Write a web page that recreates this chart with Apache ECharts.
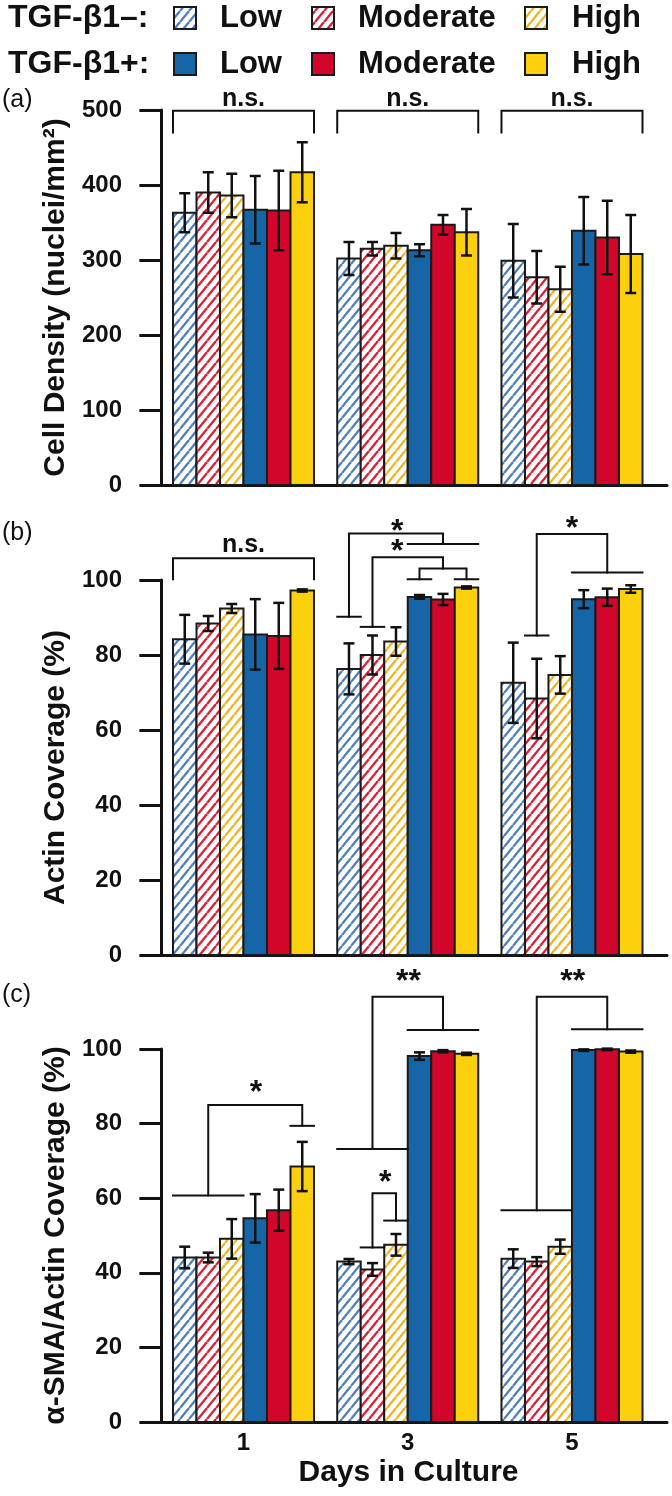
<!DOCTYPE html>
<html><head><meta charset="utf-8">
<script src="https://cdn.jsdelivr.net/npm/echarts@6/dist/echarts.min.js"></script>
<style>html,body{margin:0;padding:0;background:#fff}#c{width:672px;height:1496px}</style>
</head><body><div id="c"></div>
<script>
// ---------------- data ----------------
const days = [1, 3, 5];
const rowLabels = ['TGF-β1–:', 'TGF-β1+:'];
const levelNames = ['Low', 'Moderate', 'High'];
const panelLabels = ['(a)', '(b)', '(c)'];
const yNames = ['Cell Density (nuclei/mm²)', 'Actin Coverage (%)', 'α-SMA/Actin Coverage (%)'];
const xName = 'Days in Culture';

// rows: Low−, Moderate−, High−, Low+, Moderate+, High+ ; columns: day 1, 3, 5
const densityMean = [
  [363, 302, 299],
  [390, 315, 277],
  [386, 319, 261],
  [367, 313, 339],
  [366, 347, 330],
  [417, 337, 308]
];
const densityErr = [
  [26, 22, 49],
  [27, 9, 35],
  [29, 17, 30],
  [45, 8, 45],
  [53, 13, 49],
  [40, 31, 52]
];
const actinMean = [
  [84.2, 76.3, 72.6],
  [88.4, 80.0, 68.4],
  [92.4, 83.6, 74.7],
  [85.5, 95.5, 94.9],
  [85.1, 94.8, 95.4],
  [97.2, 98.0, 97.6]
];
const actinErr = [
  [6.5, 6.8, 10.7],
  [2.0, 5.2, 10.6],
  [1.2, 3.8, 5.0],
  [9.4, 0.5, 2.4],
  [8.8, 1.5, 2.3],
  [0.3, 0.3, 1.0]
];
const smaMean = [
  [44.1, 43.0, 43.8],
  [44.1, 40.9, 43.0],
  [49.1, 47.5, 47.0],
  [54.6, 98.1, 99.7],
  [56.8, 99.4, 99.9],
  [68.5, 98.7, 99.3]
];
const smaErr = [
  [2.9, 0.7, 2.5],
  [1.3, 1.7, 1.2],
  [5.3, 2.9, 1.9],
  [6.5, 1.0, 0.2],
  [5.5, 0.3, 0.2],
  [6.6, 0.3, 0.3]
];

// significance brackets: g = day index, points = [bar slot position (0..6), value]
const bracketsA = [
  {g: 0, pts: [[0, 470], [0, 499], [6, 499], [6, 470]]},
  {g: 1, pts: [[0, 470], [0, 499], [6, 499], [6, 470]]},
  {g: 2, pts: [[0, 470], [0, 499], [6, 499], [6, 470]]}
];
const labelsA = [
  {g: 0, p: 3, v: 514, t: 'n.s.'},
  {g: 1, p: 3, v: 514, t: 'n.s.'},
  {g: 2, p: 3, v: 514, t: 'n.s.'}
];
const bracketsB = [
  {g: 0, pts: [[0, 100.2], [0, 105.8], [6, 105.8], [6, 100.2]]},
  {g: 1, pts: [[0, 90.2], [1, 90.2]]},
  {g: 1, pts: [[0.5, 90.2], [0.5, 112.4], [4.5, 112.4], [4.5, 109.6]]},
  {g: 1, pts: [[3, 109.6], [6, 109.6]]},
  {g: 1, pts: [[1, 87.5], [2, 87.5]]},
  {g: 1, pts: [[1.5, 87.5], [1.5, 106.1], [4.5, 106.1], [4.5, 103.1]]},
  {g: 1, pts: [[3.5, 100.2], [3.5, 103.1], [5.5, 103.1], [5.5, 100.2]]},
  {g: 1, pts: [[3, 100.2], [4, 100.2]]},
  {g: 1, pts: [[5, 100.2], [6, 100.2]]},
  {g: 2, pts: [[1, 85.2], [2, 85.2]]},
  {g: 2, pts: [[1.5, 85.2], [1.5, 112.3], [4.5, 112.3], [4.5, 102]]},
  {g: 2, pts: [[3, 102], [6, 102]]}
];
const labelsB = [
  {g: 0, p: 3, v: 109.3, t: 'n.s.'},
  {g: 1, p: 2.55, v: 114.2, t: '*'},
  {g: 1, p: 2.55, v: 108.9, t: '*'},
  {g: 2, p: 3.0, v: 115.1, t: '*'}
];
const bracketsC = [
  {g: 0, pts: [[0, 60.7], [3, 60.7]]},
  {g: 0, pts: [[1.5, 60.7], [1.5, 85], [5.5, 85], [5.5, 79.4]]},
  {g: 0, pts: [[5, 79.4], [6, 79.4]]},
  {g: 1, pts: [[0, 73.2], [3, 73.2]]},
  {g: 1, pts: [[1.5, 73.2], [1.5, 114], [4.5, 114], [4.5, 105.1]]},
  {g: 1, pts: [[3, 105.1], [6, 105.1]]},
  {g: 1, pts: [[1, 46.8], [2, 46.8]]},
  {g: 1, pts: [[1.5, 46.8], [1.5, 61.3], [2.5, 61.3], [2.5, 54]]},
  {g: 1, pts: [[2, 54], [3, 54]]},
  {g: 2, pts: [[0, 56.8], [3, 56.8]]},
  {g: 2, pts: [[1.5, 56.8], [1.5, 114], [4.5, 114], [4.5, 105.3]]},
  {g: 2, pts: [[3, 105.3], [6, 105.3]]}
];
const labelsC = [
  {g: 0, p: 3.53, v: 89.5, t: '*'},
  {g: 1, p: 3.03, v: 119.3, t: '**'},
  {g: 1, p: 2.04, v: 65.6, t: '*'},
  {g: 2, p: 3.03, v: 119.3, t: '**'}
];

// ---------------- styling ----------------
const FONT = '"Liberation Sans", Arial, Helvetica, sans-serif';
const BW = 0.2862;            // bar width in x-axis units
const X_MIN = -0.1385, X_MAX = 6.157;
const solidColors = ['#1565A7', '#D2062B', '#FDD00E'];
const hatchColors = ['#4F7FBA', '#DA1E35', '#F2B41E'];

function hatch(color) {
  const w = 9, h = 11;
  const cv = document.createElement('canvas');
  cv.width = w; cv.height = h;
  const ctx = cv.getContext('2d');
  ctx.fillStyle = '#ffffff';
  ctx.fillRect(0, 0, w, h);
  ctx.strokeStyle = color;
  ctx.lineWidth = 2.3;
  for (const dx of [-w, 0, w]) {
    ctx.beginPath();
    ctx.moveTo(dx, h);
    ctx.lineTo(dx + w, 0);
    ctx.stroke();
  }
  return {image: cv, repeat: 'repeat'};
}
const fills = [hatch(hatchColors[0]), hatch(hatchColors[1]), hatch(hatchColors[2]),
  solidColors[0], solidColors[1], solidColors[2]];

function barData(mean, err) {
  const out = [];
  for (let c = 0; c < 6; c++) {
    for (let g = 0; g < days.length; g++) {
      out.push([days[g] + (c - 2.5) * BW, mean[c][g], err[c][g], c]);
    }
  }
  return out;
}

function renderBar(params, api) {
  const x = api.value(0), v = api.value(1), e = api.value(2), c = api.value(3);
  const p0 = api.coord([x - BW / 2, v]);
  const p1 = api.coord([x + BW / 2, 0]);
  const top = api.coord([x, v + e]);
  const bot = api.coord([x, v - e]);
  const cap = 5.5;
  const ls = {stroke: '#111', lineWidth: 2.5};
  return {
    type: 'group',
    children: [
      {type: 'rect', shape: {x: p0[0], y: p0[1], width: p1[0] - p0[0], height: p1[1] - p0[1]},
        style: {fill: fills[c], stroke: '#1a1a1a', lineWidth: 2}},
      {type: 'line', shape: {x1: top[0], y1: top[1], x2: bot[0], y2: bot[1]}, style: ls},
      {type: 'line', shape: {x1: top[0] - cap, y1: top[1], x2: top[0] + cap, y2: top[1]}, style: ls},
      {type: 'line', shape: {x1: bot[0] - cap, y1: bot[1], x2: bot[0] + cap, y2: bot[1]}, style: ls}
    ]
  };
}

function bracketRender(list) {
  return function (params, api) {
    const a = list[params.dataIndex];
    const pts = a.pts.map(([p, v]) => api.coord([days[a.g] + (p - 3) * BW, v]));
    return {type: 'polyline', shape: {points: pts},
      style: {stroke: '#111', lineWidth: 2, fill: null, lineCap: 'square'}};
  };
}
function labelRender(list) {
  return function (params, api) {
    const a = list[params.dataIndex];
    const pt = api.coord([days[a.g] + (a.p - 3) * BW, a.v]);
    const star = a.t.indexOf('*') >= 0;
    const fs = star ? 32 : 25;
    return {type: 'text', x: pt[0], y: pt[1] + (star ? 0.17 * fs : 0),
      style: {text: a.t, fill: '#111', align: 'center', verticalAlign: 'middle',
        font: 'bold ' + fs + 'px ' + FONT}};
  };
}

const grids = [
  {left: 150, width: 517, top: 110, height: 375},
  {left: 150, width: 517, top: 580, height: 375},
  {left: 150, width: 517, top: 1049, height: 373}
];
const yMax = [500, 100, 100];
const yInt = [100, 20, 20];

const xAxes = grids.map((g, i) => ({
  gridIndex: i, type: 'value', min: X_MIN, max: X_MAX,
  axisLine: {show: true, onZero: false, lineStyle: {color: '#111', width: 3}},
  axisTick: {show: false},
  splitLine: {show: false},
  axisLabel: i === 2 ? {show: true, customValues: days, margin: 9, color: '#111',
    fontFamily: FONT, fontWeight: 'bold', fontSize: 24} : {show: false},
  name: i === 2 ? xName : '',
  nameLocation: 'middle', nameGap: 36,
  nameTextStyle: {fontFamily: FONT, fontWeight: 'bold', fontSize: 30, color: '#111'}
}));
const yAxes = grids.map((g, i) => ({
  gridIndex: i, type: 'value', min: 0, max: yMax[i], interval: yInt[i],
  axisLine: {show: true, lineStyle: {color: '#111', width: 3}},
  axisTick: {show: true, inside: false, length: 22, lineStyle: {color: '#111', width: 3}},
  splitLine: {show: false},
  axisLabel: {margin: 28, color: '#111', fontFamily: FONT, fontWeight: 'bold', fontSize: 24},
  name: yNames[i], nameLocation: 'middle', nameRotate: 90, nameGap: 78,
  nameTextStyle: {fontFamily: FONT, fontWeight: 'bold', fontSize: 30, color: '#111'}
}));

const panels = [
  {mean: densityMean, err: densityErr, br: bracketsA, lb: labelsA},
  {mean: actinMean, err: actinErr, br: bracketsB, lb: labelsB},
  {mean: smaMean, err: smaErr, br: bracketsC, lb: labelsC}
];
const series = [];
panels.forEach((p, i) => {
  series.push({type: 'custom', xAxisIndex: i, yAxisIndex: i, clip: false,
    data: barData(p.mean, p.err), encode: {x: 0, y: 1}, renderItem: renderBar, z: 2});
  series.push({type: 'custom', xAxisIndex: i, yAxisIndex: i, clip: false,
    data: p.br.map(a => [days[a.g] + (a.pts[0][0] - 3) * BW, a.pts[0][1]]),
    encode: {x: 0, y: 1}, renderItem: bracketRender(p.br), z: 3});
  series.push({type: 'custom', xAxisIndex: i, yAxisIndex: i, clip: false,
    data: p.lb.map(a => [days[a.g] + (a.p - 3) * BW, a.v]),
    encode: {x: 0, y: 1}, renderItem: labelRender(p.lb), z: 3});
});

// legend (graphic)
const legendEls = [];
const rowY = [18, 64];
const boxX = [174, 312, 525];
const textX = [220, 358, 572];
rowLabels.forEach((lab, r) => {
  legendEls.push({type: 'text', x: 8, y: rowY[r],
    style: {text: lab, font: 'bold 32px ' + FONT, fill: '#111', verticalAlign: 'middle'}});
  for (let k = 0; k < 3; k++) {
    legendEls.push({type: 'rect', shape: {x: boxX[k], y: rowY[r] - 11, width: 22, height: 22},
      style: {fill: fills[r * 3 + k], stroke: '#1a1a1a', lineWidth: 2}});
    legendEls.push({type: 'text', x: textX[k], y: rowY[r],
      style: {text: levelNames[k], font: 'bold 31px ' + FONT, fill: '#111', verticalAlign: 'middle'}});
  }
});
const panelLabelY = [100, 533, 995];
panelLabels.forEach((t, i) => {
  legendEls.push({type: 'text', x: 2, y: panelLabelY[i],
    style: {text: t, font: '25px ' + FONT, fill: '#111', verticalAlign: 'middle'}});
});

const chart = echarts.init(document.getElementById('c'), null, {renderer: 'canvas'});
chart.setOption({
  animation: false,
  backgroundColor: '#ffffff',
  grid: grids,
  xAxis: xAxes,
  yAxis: yAxes,
  series: series,
  graphic: {elements: legendEls}
});
</script></body></html>
